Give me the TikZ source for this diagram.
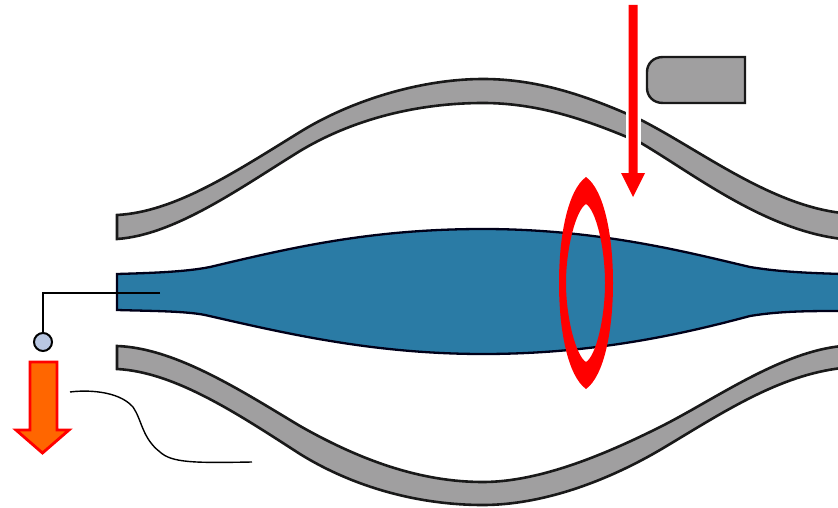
\documentclass[tikz,border=0pt]{standalone}
\definecolor{bandgray}{HTML}{A09FA0}
\definecolor{plasma}{HTML}{2A7BA5}
\definecolor{bead}{HTML}{B9C7E2}
\definecolor{orangefill}{HTML}{FF6600}
\tikzset{
  band/.style={draw=black!90,line width=2.6pt,fill=bandgray,line join=miter},
  redmark/.style={fill=red,draw=none},
  wire/.style={draw=black,line width=1.7pt},
}
\begin{document}
\begin{tikzpicture}[x=1pt,y=-1pt]
\useasboundingbox (0,0) rectangle (838,508);
% upper band
\draw[band] (117,215) .. controls (175,212) and (235,172) .. (300,132)
  .. controls (350,101) and (420,79) .. (483,79)
  .. controls (540,79) and (590,97) .. (641,120)
  .. controls (700,150) and (770,205) .. (842,213) -- (842,239)
  .. controls (765,230) and (695,175) .. (641,143)
  .. controls (590,121) and (540,103) .. (483,103)
  .. controls (420,103) and (355,118) .. (300,151)
  .. controls (240,188) and (175,235) .. (117,239) -- cycle;
% gap in the upper band
\fill[white] (625.5,105) rectangle (640.5,150);
% lower band
\draw[band] (117,346) .. controls (175,348) and (240,390) .. (300,426)
  .. controls (360,460) and (420,482) .. (483,482)
  .. controls (540,482) and (606,454) .. (660,427)
  .. controls (714,400) and (780,352) .. (842,346) -- (842,368)
  .. controls (780,375) and (725,411) .. (665,447)
  .. controls (605,483) and (540,505) .. (483,505)
  .. controls (420,505) and (355,488) .. (300,454)
  .. controls (238,414) and (175,372) .. (117,369) -- cycle;
% plasma
\draw[draw=black!90!blue,line width=2.3pt,fill=plasma] (117,274)
  .. controls (150,273) and (185,272) .. (210,267)
  .. controls (290,248) and (370,229) .. (483,229)
  .. controls (600,229) and (690,253) .. (750,267)
  .. controls (780,272) and (810,273) .. (842,274)
  -- (842,311)
  .. controls (810,311) and (780,311) .. (750,316)
  .. controls (690,332) and (600,354) .. (483,354)
  .. controls (370,354) and (280,332) .. (205,315)
  .. controls (185,311) and (150,311) .. (117,310) -- cycle;
% probe
\coordinate (wirecorner) at (43,293);
\coordinate (wiretip) at (160,293);
\node[circle,draw=black,line width=2pt,fill=bead,minimum size=18pt,inner sep=0pt] (probe) at (43,342) {};
\draw[wire] (wiretip) -- (wirecorner) -- (probe.north);
% ring
\path[redmark,even odd rule]
  (586,177) .. controls (604,190) and (613,235) .. (613,283)
  .. controls (613,331) and (604,376) .. (586,389)
  .. controls (568,376) and (559,331) .. (559,283)
  .. controls (559,235) and (568,190) .. (586,177) -- cycle
  (586,204) .. controls (596,210) and (605,248) .. (605,283)
  .. controls (605,318) and (596,356) .. (586,362)
  .. controls (576,356) and (566,318) .. (566,283)
  .. controls (566,248) and (576,210) .. (586,204) -- cycle;
% red arrow
\path[redmark] (628.5,5) -- (637.5,5) -- (637.5,173) -- (645,173) -- (633,197) -- (621,173) -- (628.5,173) -- cycle;
% gray tab
\draw[draw=black!90,line width=2.4pt,fill=bandgray] (745,57) -- (745,103) -- (663,103)
  .. controls (653,103) and (647,96) .. (647,88) -- (647,72)
  .. controls (647,64) and (653,57) .. (663,57) -- cycle;
% orange arrow
\draw[draw=red,line width=2.8pt,fill=orangefill,line join=miter] (30,362) -- (57,362) -- (57,430) -- (69,430) -- (42.5,453) -- (16,430) -- (30,430) -- cycle;
% curve
\draw[black,line width=1.4pt] (70,392) .. controls (85,390) and (118,390) .. (133,407)
  .. controls (142,420) and (142,438) .. (160,452)
  .. controls (172,463) and (195,463) .. (252,462);
\end{tikzpicture}
\end{document}
